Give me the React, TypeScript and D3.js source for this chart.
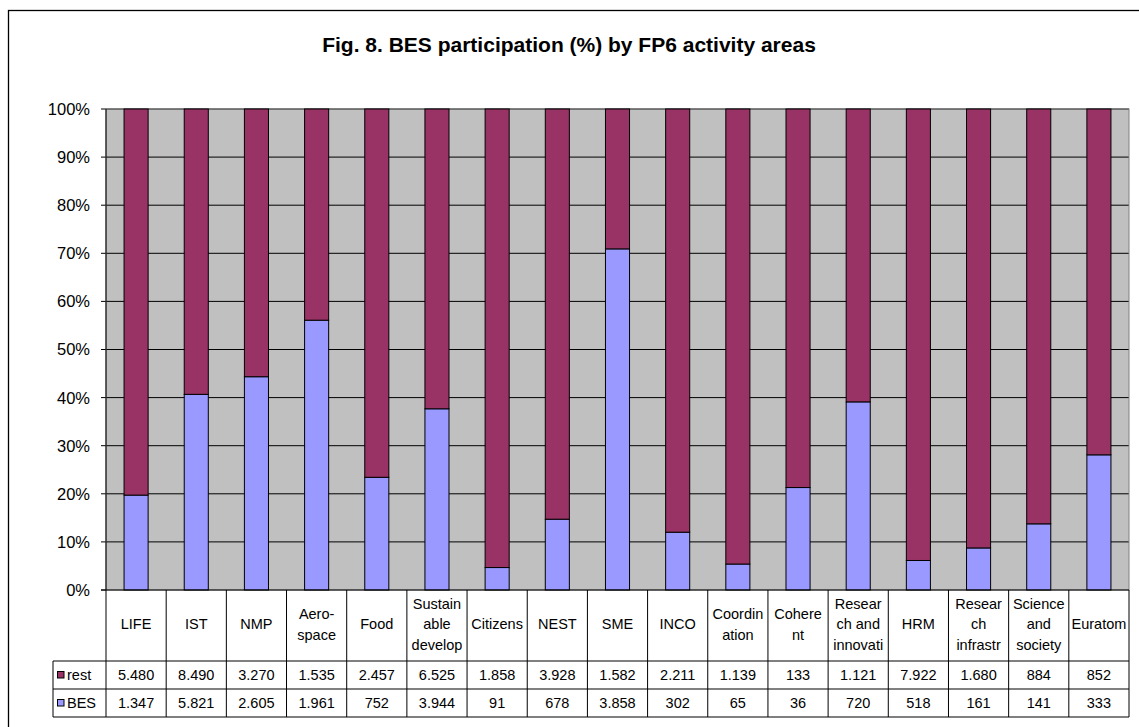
import React from "react";
import * as d3 from "d3";

const categories = [
  "LIFE", "IST", "NMP", "Aero-\nspace", "Food", "Sustain\nable\ndevelop", "Citizens", "NEST", "SME",
  "INCO", "Coordin\nation", "Cohere\nnt", "Resear\nch and\ninnovati", "HRM", "Resear\nch\ninfrastr",
  "Science\nand\nsociety", "Euratom",
];
const restValues = [5480, 8490, 3270, 1535, 2457, 6525, 1858, 3928, 1582, 2211, 1139, 133, 1121, 7922, 1680, 884, 852];
const besValues = [1347, 5821, 2605, 1961, 752, 3944, 91, 678, 3858, 302, 65, 36, 720, 518, 161, 141, 333];
const yTicks = [0, 0.1, 0.2, 0.3, 0.4, 0.5, 0.6, 0.7, 0.8, 0.9, 1];
const seriesNames = ["rest", "BES"];
const title = "Fig. 8. BES participation (%) by FP6 activity areas";

const COLORS: Record<string, string> = { rest: "#993366", BES: "#9999FF" };
const FONT = "'Liberation Sans', Arial, sans-serif";

export default function App() {
  const W = 1139, H = 727;
  const left = 106, right = 1129, top = 109, bottom = 590;
  const headerBottom = 661, rowH = 28, legendLeft = 53;

  const x = d3.scaleBand<string>().domain(categories).range([left, right]).paddingInner(0.6).paddingOuter(0.3);
  const xCol = d3.scaleBand<string>().domain(categories).range([left, right]);
  const y = d3.scaleLinear().domain([0, 1]).range([bottom, top]);
  const fmt = d3.formatLocale({ decimal: ",", thousands: ".", grouping: [3], currency: ["", ""] }).format(",d");

  const rows = categories.map((c, i) => ({ cat: c, rest: restValues[i], BES: besValues[i] }));
  const stack = d3.stack<any>().keys(["BES", "rest"]).offset(d3.stackOffsetExpand);
  const stacked = stack(rows);

  const tableRows = [
    { name: "rest", values: restValues },
    { name: "BES", values: besValues },
  ];

  return (
    <svg width={W} height={H} style={{ position: "absolute", left: 0, top: 0, fontFamily: FONT }}>
      <rect x={0} y={0} width={W} height={H} fill="#fff" />
      <rect x={8.5} y={10.5} width={1145} height={740} fill="#fff" stroke="#000" strokeWidth={1.3} />
      <text x={569} y={52} textAnchor="middle" fontSize={21} fontWeight="bold" fill="#000">{title}</text>

      {/* plot area */}
      <rect x={left} y={top} width={right - left} height={bottom - top} fill="#C0C0C0" />
      {yTicks.map((t) => (
        <g key={t}>
          {t > 0 && <line x1={left} x2={right} y1={y(t)} y2={y(t)} stroke="#000" strokeWidth={1} />}
          <line x1={left - 5} x2={left} y1={y(t)} y2={y(t)} stroke="#000" strokeWidth={1} />
          <text x={90} y={y(t)} dy="0.36em" textAnchor="end" fontSize={16.5} fill="#000">{d3.format(".0%")(t)}</text>
        </g>
      ))}
      <rect x={left} y={top} width={right - left} height={bottom - top} fill="none" stroke="#808080" strokeWidth={1} />

      {stacked.map((s) => (
        <g key={s.key}>
          {s.map((d, i) => (
            <rect key={i} x={x(categories[i])} width={x.bandwidth()} y={y(d[1])} height={y(d[0]) - y(d[1])}
              fill={COLORS[s.key]} stroke="#000" strokeWidth={1} />
          ))}
        </g>
      ))}

      {/* axis line */}
      <line x1={left} x2={left} y1={top} y2={bottom} stroke="#000" strokeWidth={1} />

      {/* data table */}
      <g stroke="#000" strokeWidth={1}>
        <line x1={left - 5} x2={right} y1={bottom} y2={bottom} />
        <line x1={legendLeft} x2={right} y1={headerBottom} y2={headerBottom} />
        <line x1={legendLeft} x2={right} y1={headerBottom + rowH} y2={headerBottom + rowH} />
        <line x1={legendLeft} x2={right} y1={headerBottom + 2 * rowH} y2={headerBottom + 2 * rowH} />
        <line x1={legendLeft} x2={legendLeft} y1={headerBottom} y2={headerBottom + 2 * rowH} />
        {categories.map((c) => (
          <line key={c} x1={xCol(c)!} x2={xCol(c)!} y1={bottom} y2={headerBottom + 2 * rowH} />
        ))}
        <line x1={right} x2={right} y1={bottom} y2={headerBottom + 2 * rowH} />
      </g>

      {categories.map((c) => {
        const lines = c.split("\n");
        const cx = xCol(c)! + xCol.bandwidth() / 2;
        const lh = 20.7;
        const cy = 624;
        return (
          <text key={c} textAnchor="middle" fontSize={14.5} fill="#000">
            {lines.map((l, j) => (
              <tspan key={j} x={cx} y={cy + (j - (lines.length - 1) / 2) * lh} dy="0.36em">{l}</tspan>
            ))}
          </text>
        );
      })}

      {tableRows.map((r, ri) => {
        const cy = headerBottom + rowH * ri + rowH / 2;
        return (
          <g key={r.name}>
            <rect x={57.5} y={cy - 3.5} width={6.5} height={6.5} fill={COLORS[r.name]} stroke="#000" strokeWidth={1} />
            <text x={67} y={cy} dy="0.36em" fontSize={14.5} fill="#000">{seriesNames[ri]}</text>
            {r.values.map((v, i) => (
              <text key={i} x={xCol(categories[i])! + xCol.bandwidth() / 2} y={cy} dy="0.36em" textAnchor="middle"
                fontSize={14.5} fill="#000">{fmt(v)}</text>
            ))}
          </g>
        );
      })}
    </svg>
  );
}
